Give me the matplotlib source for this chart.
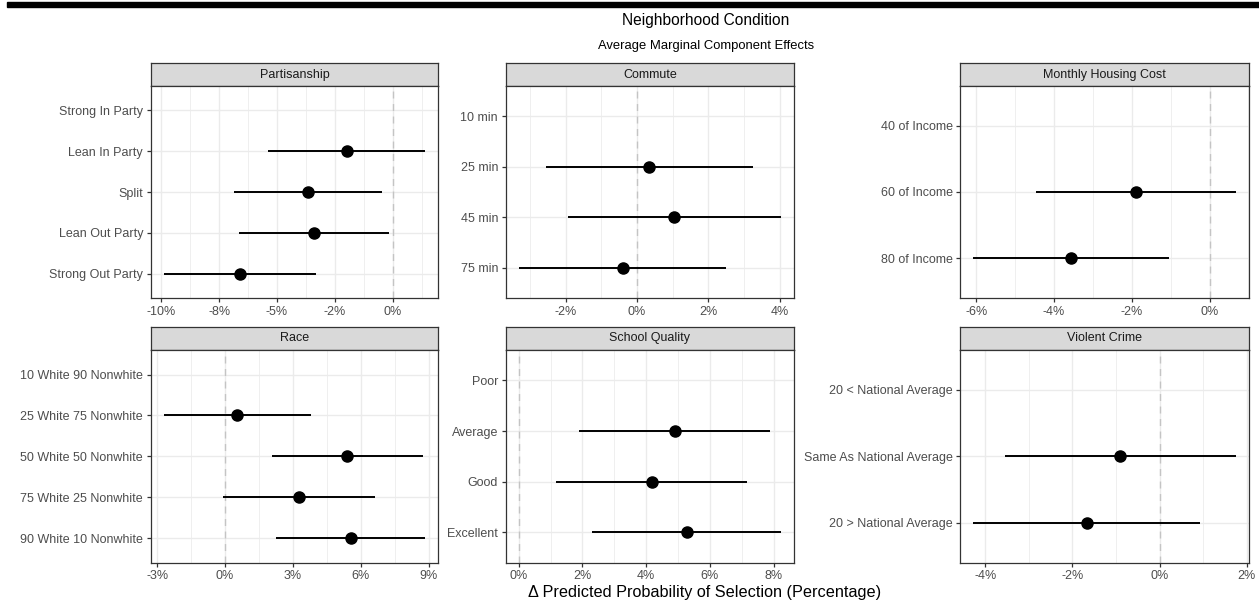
import numpy as np
import matplotlib
matplotlib.use("Agg")
import matplotlib.pyplot as plt
from matplotlib.patches import Rectangle

plt.rcParams['font.family'] = ['Liberation Sans', 'DejaVu Sans']

# AMCE estimates with 95% intervals (percentage points); first level is the baseline
partisanship_levels = ["Strong In Party", "Lean In Party", "Split", "Lean Out Party", "Strong Out Party"]
partisanship_est = [np.nan, -1.98, -3.66, -3.40, -6.60]
partisanship_lo = [np.nan, -5.39, -6.87, -6.63, -9.89]
partisanship_hi = [np.nan, 1.41, -0.46, -0.17, -3.32]
partisanship_ticks = [-10, -7.5, -5, -2.5, 0]
partisanship_ticklabels = ["-10%", "-8%", "-5%", "-2%", "0%"]

commute_levels = ["10 min", "25 min", "45 min", "75 min"]
commute_est = [np.nan, 0.34, 1.05, -0.40]
commute_lo = [np.nan, -2.56, -1.93, -3.31]
commute_hi = [np.nan, 3.24, 4.03, 2.50]
commute_ticks = [-2, 0, 2, 4]
commute_ticklabels = ["-2%", "0%", "2%", "4%"]

housing_levels = ["40 of Income", "60 of Income", "80 of Income"]
housing_est = [np.nan, -1.90, -3.56]
housing_lo = [np.nan, -4.47, -6.07]
housing_hi = [np.nan, 0.67, -1.05]
housing_ticks = [-6, -4, -2, 0]
housing_ticklabels = ["-6%", "-4%", "-2%", "0%"]

race_levels = ["10 White 90 Nonwhite", "25 White 75 Nonwhite", "50 White 50 Nonwhite",
               "75 White 25 Nonwhite", "90 White 10 Nonwhite"]
race_est = [np.nan, 0.54, 5.40, 3.26, 5.55]
race_lo = [np.nan, -2.71, 2.06, -0.09, 2.25]
race_hi = [np.nan, 3.79, 8.74, 6.62, 8.85]
race_ticks = [-3, 0, 3, 6, 9]
race_ticklabels = ["-3%", "0%", "3%", "6%", "9%"]

school_levels = ["Poor", "Average", "Good", "Excellent"]
school_est = [np.nan, 4.91, 4.17, 5.27]
school_lo = [np.nan, 1.89, 1.18, 2.31]
school_hi = [np.nan, 7.90, 7.16, 8.23]
school_ticks = [0, 2, 4, 6, 8]
school_ticklabels = ["0%", "2%", "4%", "6%", "8%"]

crime_levels = ["20 < National Average", "Same As National Average", "20 > National Average"]
crime_est = [np.nan, -0.91, -1.67]
crime_lo = [np.nan, -3.54, -4.27]
crime_hi = [np.nan, 1.74, 0.92]
crime_ticks = [-4, -2, 0, 2]
crime_ticklabels = ["-4%", "-2%", "0%", "2%"]

W, H = 1259, 611
fig = plt.figure(figsize=(W / 100, H / 100), dpi=100)

GRID = "#EBEBEB"
BORDER = "#333333"
TICKCOL = "#4D4D4D"


def px_axes(left, top, width, height):
    return fig.add_axes([left / W, (H - top - height) / H, width / W, height / H])


def facet(left, top, width, height, strip_h, title, levels, est, lo, hi, ticks, ticklabels):
    strip = px_axes(left, top, width, strip_h)
    strip.set_facecolor("#D9D9D9")
    strip.set_xticks([])
    strip.set_yticks([])
    for s in strip.spines.values():
        s.set_color(BORDER)
        s.set_linewidth(0.9)
    strip.text(0.5, 0.5, title, ha="center", va="center", fontsize=9, color="#1A1A1A",
               transform=strip.transAxes)

    ax = px_axes(left, top + strip_h, width, height)
    n = len(levels)
    y = np.arange(n)

    # ggplot-style limits: data plus the zero line, expanded by 5%
    xmin = min(np.nanmin(lo), 0)
    xmax = max(np.nanmax(hi), 0)
    pad = 0.05 * (xmax - xmin)
    ax.set_xlim(xmin - pad, xmax + pad)
    ax.set_ylim(n - 1 + 0.6, -0.6)

    step = ticks[1] - ticks[0]
    minor = [t - step / 2 for t in ticks] + [ticks[-1] + step / 2]
    for m in minor:
        ax.axvline(m, color=GRID, lw=0.55, zorder=0)
    for t in ticks:
        ax.axvline(t, color=GRID, lw=1.0, zorder=0)
    for yy in y:
        ax.axhline(yy, color=GRID, lw=1.0, zorder=0)

    ax.axvline(0, color="#C4C4C4", lw=1.0, ls=(0, (5, 4)), zorder=1)

    ax.hlines(y, lo, hi, color="black", lw=1.4, zorder=2)
    ax.plot(est, y, "o", color="black", ms=8, zorder=3)

    ax.set_xticks(ticks)
    ax.set_xticklabels(ticklabels)
    ax.set_yticks(y)
    ax.set_yticklabels(levels)
    ax.tick_params(axis="both", labelsize=9, labelcolor=TICKCOL, color=BORDER,
                   length=3, width=0.9, pad=2.5)
    for s in ax.spines.values():
        s.set_color(BORDER)
        s.set_linewidth(0.9)
    return ax


cols = [(150.7, 287.6), (505.7, 288.3), (960.3, 288.4)]
top_row = (63.3, 22.7, 212.0)
bottom_row = (326.7, 23.3, 212.7)

facet(cols[0][0], top_row[0], cols[0][1], top_row[2], top_row[1], "Partisanship",
      partisanship_levels, partisanship_est, partisanship_lo, partisanship_hi,
      partisanship_ticks, partisanship_ticklabels)
facet(cols[1][0], top_row[0], cols[1][1], top_row[2], top_row[1], "Commute",
      commute_levels, commute_est, commute_lo, commute_hi, commute_ticks, commute_ticklabels)
facet(cols[2][0], top_row[0], cols[2][1], top_row[2], top_row[1], "Monthly Housing Cost",
      housing_levels, housing_est, housing_lo, housing_hi, housing_ticks, housing_ticklabels)
facet(cols[0][0], bottom_row[0], cols[0][1], bottom_row[2], bottom_row[1], "Race",
      race_levels, race_est, race_lo, race_hi, race_ticks, race_ticklabels)
facet(cols[1][0], bottom_row[0], cols[1][1], bottom_row[2], bottom_row[1], "School Quality",
      school_levels, school_est, school_lo, school_hi, school_ticks, school_ticklabels)
facet(cols[2][0], bottom_row[0], cols[2][1], bottom_row[2], bottom_row[1], "Violent Crime",
      crime_levels, crime_est, crime_lo, crime_hi, crime_ticks, crime_ticklabels)

# heavy rule along the top edge
fig.patches.append(Rectangle((7 / W, (H - 6.5) / H), (W - 7) / W, 4.5 / H,
                             transform=fig.transFigure, color="black", zorder=5))

fig.text(706 / W, 1 - 20 / H, "Neighborhood Condition", ha="center", va="center",
         fontsize=11.2, color="black")
fig.text(706 / W, 1 - 46 / H, "Average Marginal Component Effects", ha="center", va="center",
         fontsize=9.4, color="black")
fig.text(705 / W, 1 - 592 / H, "\u0394 Predicted Probability of Selection (Percentage)",
         ha="center", va="center", fontsize=11.7, color="black")

fig.savefig("out.png", dpi=100)
